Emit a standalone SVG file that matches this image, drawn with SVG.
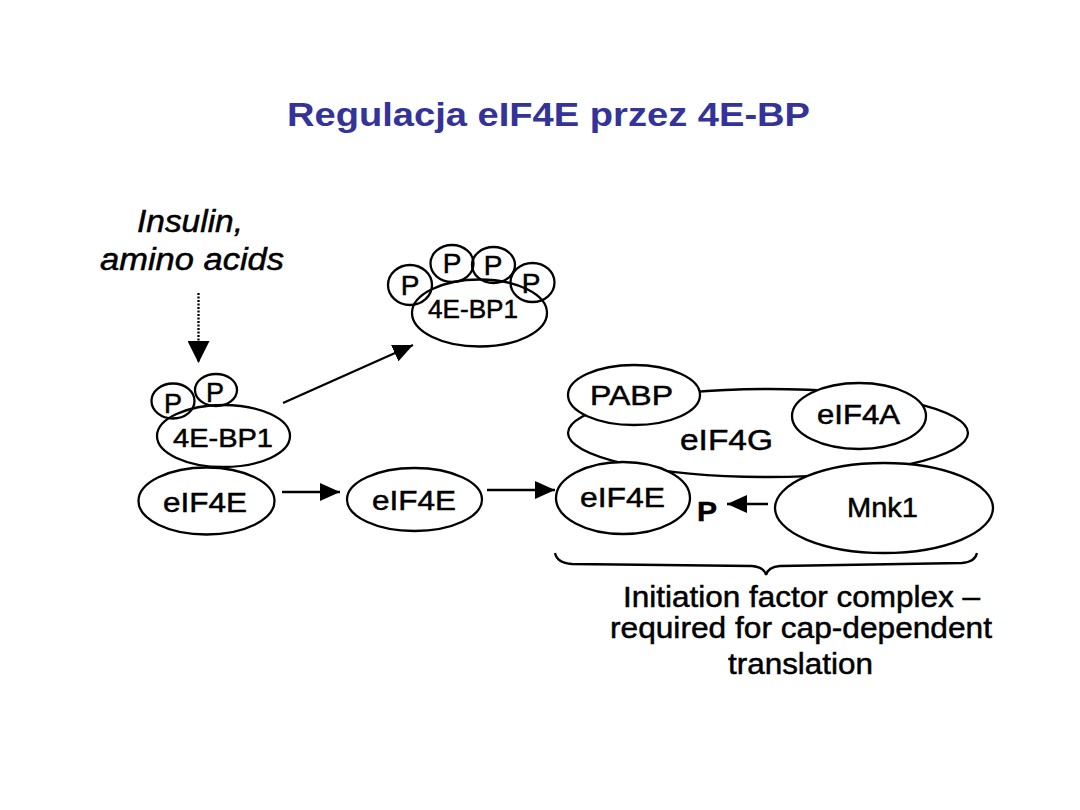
<svg xmlns="http://www.w3.org/2000/svg" width="1080" height="810" viewBox="0 0 1080 810">
<style>
.t{font-family:"Liberation Sans",Arial,sans-serif;fill:#000;stroke:#000;stroke-width:0.5}
.o{fill:none;stroke:#000;stroke-width:2.3}
.w{fill:#fff;stroke:#000;stroke-width:2.3}
.c{stroke:#000;stroke-width:2.3;fill:none}
</style>
<defs>
<marker id="ah" viewBox="0 0 20 18" refX="20" refY="9" markerWidth="20" markerHeight="18" markerUnits="userSpaceOnUse" orient="auto">
<path d="M0,0 L20,9 L0,18 Z" fill="#000"/>
</marker>
<marker id="ahs" viewBox="0 0 22 22" refX="22" refY="11" markerWidth="22" markerHeight="22" markerUnits="userSpaceOnUse" orient="auto">
<path d="M0,0 L22,11 L0,22 Z" fill="#000"/>
</marker>
</defs>
<rect width="1080" height="810" fill="#fff"/>
<text x="287" y="126" font-family="Liberation Sans, Arial, sans-serif" font-size="33" font-weight="bold" fill="#333399" textLength="523" lengthAdjust="spacingAndGlyphs">Regulacja eIF4E przez 4E-BP</text>

<g id="stimulus">
<text x="137" y="232" class="t" font-size="31" font-style="italic" textLength="106" lengthAdjust="spacingAndGlyphs">Insulin,</text>
<text x="100" y="270" class="t" font-size="31" font-style="italic" textLength="184" lengthAdjust="spacingAndGlyphs">amino acids</text>
</g>

<g id="connectors">
<line x1="198.5" y1="293" x2="198.5" y2="363" class="c" stroke-width="1.5" stroke-dasharray="2 1.5" marker-end="url(#ahs)"/>
<line x1="283" y1="403" x2="413" y2="345" class="c" marker-end="url(#ah)"/>
<line x1="282" y1="492" x2="340" y2="492" class="c" marker-end="url(#ah)"/>
<line x1="487" y1="490" x2="555" y2="490" class="c" marker-end="url(#ah)"/>
<line x1="768" y1="504" x2="727" y2="504" class="c" marker-end="url(#ah)"/>
<path d="M555,553 Q557,563 572,564 L752,566 Q764,567 766,575 Q768,567 780,566 L962,563 Q975,562 977,553" class="c"/>
</g>

<g id="p-4ebp1-left">
<ellipse cx="173" cy="401" rx="21.5" ry="17.5" class="o"/>
<text x="173" y="413" class="t" font-size="27" text-anchor="middle">P</text>
<ellipse cx="216" cy="390" rx="21" ry="16" class="o"/>
<text x="215" y="402" class="t" font-size="27" text-anchor="middle">P</text>
<ellipse cx="223.5" cy="436" rx="66.5" ry="31" class="o"/>
<text x="173" y="447" class="t" font-size="26" textLength="100" lengthAdjust="spacingAndGlyphs">4E-BP1</text>
</g>

<g id="eif4e-left">
<ellipse cx="206.5" cy="501" rx="68" ry="33.5" class="o"/>
<text x="163" y="512" class="t" font-size="28" textLength="84" lengthAdjust="spacingAndGlyphs">eIF4E</text>
</g>

<g id="p-4ebp1-free">
<ellipse cx="479.5" cy="313" rx="67.5" ry="33.5" class="o"/>
<text x="428" y="318" class="t" font-size="25" textLength="90" lengthAdjust="spacingAndGlyphs">4E-BP1</text>
<ellipse cx="410" cy="285" rx="22" ry="20" class="o"/>
<text x="410" y="295" class="t" font-size="28" text-anchor="middle">P</text>
<ellipse cx="452" cy="263.5" rx="21.5" ry="18.5" class="o"/>
<text x="452" y="273" class="t" font-size="28" text-anchor="middle">P</text>
<ellipse cx="493.5" cy="265" rx="21.5" ry="18" class="o"/>
<text x="493" y="275" class="t" font-size="28" text-anchor="middle">P</text>
<ellipse cx="532.5" cy="282.5" rx="22" ry="19.5" class="o"/>
<text x="531" y="293" class="t" font-size="28" text-anchor="middle">P</text>
</g>

<g id="eif4e-free">
<ellipse cx="414.5" cy="499.5" rx="67.5" ry="31.5" class="o"/>
<text x="372" y="510" class="t" font-size="28" textLength="84" lengthAdjust="spacingAndGlyphs">eIF4E</text>
</g>

<g id="eif4g">
<ellipse cx="768" cy="433" rx="200" ry="44" class="w"/>
<text x="680" y="450" class="t" font-size="30" textLength="93" lengthAdjust="spacingAndGlyphs">eIF4G</text>
</g>

<g id="pabp">
<ellipse cx="634" cy="395" rx="66" ry="30" class="w"/>
<text x="590" y="405" class="t" font-size="27" textLength="83" lengthAdjust="spacingAndGlyphs">PABP</text>
</g>

<g id="eif4a">
<ellipse cx="859" cy="416" rx="67" ry="33" class="w"/>
<text x="817" y="424" class="t" font-size="27" textLength="83" lengthAdjust="spacingAndGlyphs">eIF4A</text>
</g>

<g id="eif4e-complex">
<ellipse cx="623" cy="498" rx="67" ry="36" class="w"/>
<text x="580" y="507" class="t" font-size="28" textLength="85" lengthAdjust="spacingAndGlyphs">eIF4E</text>
</g>

<g id="mnk1">
<ellipse cx="884" cy="508" rx="109" ry="45" class="w"/>
<text x="847" y="517" class="t" font-size="28" textLength="71" lengthAdjust="spacingAndGlyphs">Mnk1</text>
</g>

<g id="phospho-site">
<text x="697" y="521" class="t" font-size="27" font-weight="bold" textLength="20" lengthAdjust="spacingAndGlyphs">P</text>
</g>

<g id="complex-label">
<text x="623" y="607" class="t" font-size="30" textLength="357" lengthAdjust="spacingAndGlyphs">Initiation factor complex –</text>
<text x="610" y="638" class="t" font-size="30" textLength="382" lengthAdjust="spacingAndGlyphs">required for cap-dependent</text>
<text x="728" y="674" class="t" font-size="30" textLength="145" lengthAdjust="spacingAndGlyphs">translation</text>
</g>
</svg>
